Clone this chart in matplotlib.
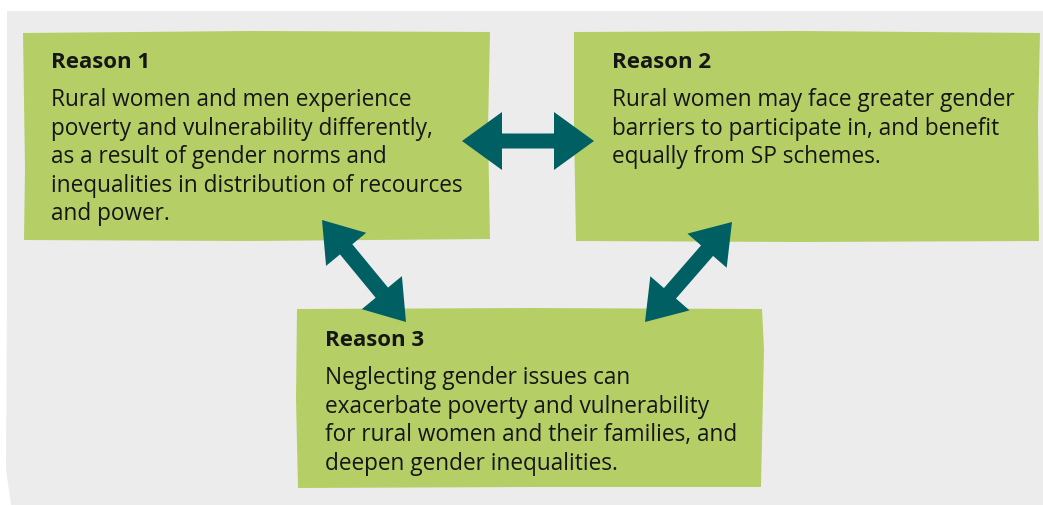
import matplotlib.pyplot as plt
from matplotlib.patches import Polygon
import numpy as np

# Content
titles = ["Reason 1", "Reason 2", "Reason 3"]
bodies = [
    ["Rural women and men experience",
     "poverty and vulnerability differently,",
     "as a result of gender norms and",
     "inequalities in distribution of recources",
     "and power."],
    ["Rural women may face greater gender",
     "barriers to participate in, and benefit",
     "equally from SP schemes."],
    ["Neglecting gender issues can",
     "exacerbate poverty and vulnerability",
     "for rural women and their families, and",
     "deepen gender inequalities."],
]

GREEN = "#b5cf66"
GRAY = "#ececec"
TEAL = "#005f63"
TXT = "#161616"
FONT = "Open Sans"

W, H = 1043, 506
fig = plt.figure(figsize=(W / 100, H / 100), dpi=100)
ax = fig.add_axes([0, 0, 1, 1])
ax.set_xlim(0, W)
ax.set_ylim(H, 0)
ax.axis("off")

# gray background panel
ax.add_patch(Polygon([(7, 12), (1043, 12), (1043, 506), (11, 506), (6, 470), (7, 300)],
                     closed=True, fc=GRAY, ec="none"))

# green boxes (slightly hand drawn edges)
boxes = [
    [(23, 34), (250, 32), (490, 33), (488, 130), (490, 240), (250, 242), (24, 241), (25, 170)],
    [(574, 33), (800, 32), (1040, 34), (1038, 120), (1039, 242), (800, 243), (576, 242), (574, 130)],
    [(297, 310), (530, 309), (762, 310), (764, 350), (761, 488), (530, 488), (298, 489), (296, 400)],
]
for b in boxes:
    ax.add_patch(Polygon(b, closed=True, fc=GREEN, ec="none"))


def double_arrow(p0, p1, head_len=42, head_w=58, shaft_w=15):
    p0 = np.array(p0, float)
    p1 = np.array(p1, float)
    d = p1 - p0
    L = np.hypot(*d)
    u = d / L
    n = np.array([-u[1], u[0]])
    a = p0 + u * head_len
    b = p1 - u * head_len
    pts = [p0,
           a + n * head_w / 2, a + n * shaft_w / 2,
           b + n * shaft_w / 2, b + n * head_w / 2,
           p1,
           b - n * head_w / 2, b - n * shaft_w / 2,
           a - n * shaft_w / 2, a - n * head_w / 2]
    ax.add_patch(Polygon(pts, closed=True, fc=TEAL, ec="none"))


double_arrow((462, 142), (594, 142), head_len=40, head_w=58, shaft_w=15)
double_arrow((322, 221), (406, 323), head_len=38, head_w=52, shaft_w=16)
double_arrow((732, 223), (645, 323), head_len=38, head_w=52, shaft_w=16)

# text
starts = [(51, 62), (612, 62), (325, 340)]
lh = 28.6
for (x, y), t, lines in zip(starts, titles, bodies):
    ax.text(x, y, t, fontsize=16, fontweight="bold", family=FONT, color=TXT,
            ha="left", va="center")
    for i, line in enumerate(lines):
        ax.text(x, y + 38 + i * lh, line, fontsize=16.3, family=FONT, color=TXT,
                ha="left", va="center")

fig.savefig("out.png", dpi=100, facecolor="white")
